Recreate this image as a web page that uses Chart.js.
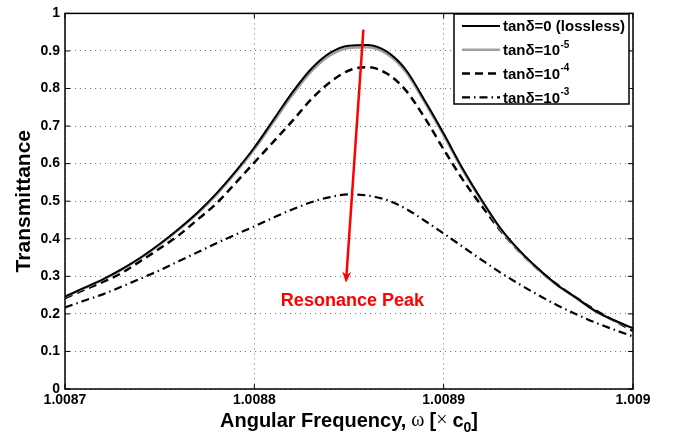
<!DOCTYPE html>
<html lang="en">
<head>
<meta charset="UTF-8">
<title>Transmittance vs Angular Frequency</title>
<style>
  html, body { margin: 0; padding: 0; background: #fff; }
  #wrap { width: 673px; height: 441px; }
</style>
</head>
<body>
<div id="wrap"><canvas id="chart" width="673" height="441"></canvas></div>
<script src="https://cdn.jsdelivr.net/npm/chart.js"></script>
<script>
// angular frequency samples (x c0)
const freqs = [
  1.00870, 1.00871, 1.00872, 1.00873, 1.00874, 1.00875, 1.00876, 1.00877, 1.00878, 1.00879,
  1.00880, 1.00881, 1.00882, 1.00883, 1.00884, 1.00885, 1.00886, 1.00887, 1.00888, 1.00889,
  1.00890, 1.00891, 1.00892, 1.00893, 1.00894, 1.00895, 1.00896, 1.00897, 1.00898, 1.00899,
  1.00900
];

// transmittance
const lossless = [0.246, 0.269, 0.292, 0.319, 0.350, 0.386, 0.426, 0.470, 0.521, 0.579,
  0.643, 0.716, 0.789, 0.852, 0.895, 0.914, 0.916, 0.898, 0.850, 0.768,
  0.680, 0.587, 0.504, 0.428, 0.369, 0.320, 0.277, 0.243, 0.208, 0.183, 0.162];
const loss1e5 = [0.245, 0.268, 0.291, 0.318, 0.349, 0.384, 0.424, 0.467, 0.517, 0.575,
  0.638, 0.710, 0.782, 0.845, 0.888, 0.908, 0.910, 0.892, 0.844, 0.763,
  0.675, 0.583, 0.501, 0.426, 0.367, 0.318, 0.276, 0.242, 0.207, 0.182, 0.161];
const loss1e4 = [0.242, 0.264, 0.285, 0.309, 0.341, 0.374, 0.409, 0.451, 0.494, 0.548,
  0.603, 0.658, 0.713, 0.771, 0.817, 0.848, 0.857, 0.840, 0.795, 0.722,
  0.638, 0.558, 0.488, 0.422, 0.366, 0.318, 0.278, 0.243, 0.210, 0.182, 0.155];
const loss1e3 = [0.217, 0.235, 0.252, 0.273, 0.294, 0.316, 0.340, 0.364, 0.388, 0.411,
  0.433, 0.456, 0.478, 0.497, 0.511, 0.518, 0.515, 0.503, 0.480, 0.448,
  0.414, 0.379, 0.344, 0.310, 0.279, 0.250, 0.223, 0.199, 0.177, 0.158, 0.140];

const seriesLabels = ['tanδ=0 (lossless)', 'tanδ=10^-5', 'tanδ=10^-4', 'tanδ=10^-3'];

const xTicks = [1.0087, 1.0088, 1.0089, 1.009];
const xTickLabels = ['1.0087', '1.0088', '1.0089', '1.009'];
const yTicks = [0, 0.1, 0.2, 0.3, 0.4, 0.5, 0.6, 0.7, 0.8, 0.9, 1];
const yTickLabels = ['0', '0.1', '0.2', '0.3', '0.4', '0.5', '0.6', '0.7', '0.8', '0.9', '1'];

// annotation (data coordinates)
const arrowFrom = [1.0088576, 0.957];
const arrowTo = [1.0088484, 0.283];
const noteText = 'Resonance Peak';
const noteAt = [1.0088518, 0.235];

const FONT = "'Liberation Sans', Arial, Helvetica, sans-serif";
const SYMFONT = "'Liberation Serif', 'DejaVu Serif', serif";

function pts(ys) {
  return freqs.map((f, i) => ({ x: f, y: ys[i] }));
}

// box + inward ticks, matlab style
const framePlugin = {
  id: 'frame',
  afterDatasetsDraw(chart) {
    const { ctx, chartArea: a, scales } = chart;
    ctx.save();
    ctx.strokeStyle = '#000';
    ctx.lineWidth = 1.5;
    ctx.strokeRect(a.left, a.top, a.right - a.left, a.bottom - a.top);
    ctx.lineWidth = 1;
    ctx.beginPath();
    xTicks.forEach(v => {
      const px = scales.x.getPixelForValue(v);
      ctx.moveTo(px, a.bottom); ctx.lineTo(px, a.bottom - 5);
      ctx.moveTo(px, a.top); ctx.lineTo(px, a.top + 5);
    });
    yTicks.forEach(v => {
      const py = scales.y.getPixelForValue(v);
      ctx.moveTo(a.left, py); ctx.lineTo(a.left + 5, py);
      ctx.moveTo(a.right, py); ctx.lineTo(a.right - 5, py);
    });
    ctx.stroke();
    ctx.restore();
  }
};

// x axis title with symbol + subscript pieces
function drawXTitle(chart) {
  const { ctx, chartArea: a } = chart;
  const pieces = [
    { t: 'Angular Frequency,', f: 'bold 20px ' + FONT, dy: 0 },
    { t: ' ω ', f: '20px ' + SYMFONT, dy: 0 },
    { t: '[', f: 'bold 20px ' + FONT, dy: 0 },
    { t: '× ', f: '20px ' + SYMFONT, dy: 0 },
    { t: 'c', f: 'bold 20px ' + FONT, dy: 0 },
    { t: '0', f: 'bold 14px ' + FONT, dy: 7 },
    { t: ']', f: 'bold 20px ' + FONT, dy: 0 }
  ];
  ctx.save();
  let total = 0;
  pieces.forEach(p => { ctx.font = p.f; p.w = ctx.measureText(p.t).width; total += p.w; });
  let x = (a.left + a.right) / 2 - total / 2;
  const y = 421;
  ctx.fillStyle = '#000';
  ctx.textBaseline = 'middle';
  ctx.textAlign = 'left';
  pieces.forEach(p => {
    ctx.font = p.f;
    ctx.fillText(p.t, x, y + p.dy);
    x += p.w;
  });
  ctx.restore();
}

const annotePlugin = {
  id: 'annote',
  afterDraw(chart) {
    const { ctx, scales } = chart;
    const x0 = scales.x.getPixelForValue(arrowFrom[0]);
    const y0 = scales.y.getPixelForValue(arrowFrom[1]);
    const x1 = scales.x.getPixelForValue(arrowTo[0]);
    const y1 = scales.y.getPixelForValue(arrowTo[1]);
    const ang = Math.atan2(y1 - y0, x1 - x0);
    const headLen = 11, headW = 4.5;
    ctx.save();
    ctx.strokeStyle = '#ff0000';
    ctx.fillStyle = '#ff0000';
    ctx.lineWidth = 2.5;
    ctx.beginPath();
    ctx.moveTo(x0, y0);
    ctx.lineTo(x1 - Math.cos(ang) * headLen * 0.6, y1 - Math.sin(ang) * headLen * 0.6);
    ctx.stroke();
    // arrow head
    const bx = x1 - Math.cos(ang) * headLen, by = y1 - Math.sin(ang) * headLen;
    ctx.beginPath();
    ctx.moveTo(x1, y1);
    ctx.lineTo(bx - Math.sin(ang) * headW, by + Math.cos(ang) * headW);
    ctx.lineTo(x1 - Math.cos(ang) * headLen * 0.7, y1 - Math.sin(ang) * headLen * 0.7);
    ctx.lineTo(bx + Math.sin(ang) * headW, by - Math.cos(ang) * headW);
    ctx.closePath();
    ctx.fill();

    ctx.font = 'bold 18px ' + FONT;
    ctx.textAlign = 'center';
    ctx.textBaseline = 'middle';
    ctx.fillText(noteText, scales.x.getPixelForValue(noteAt[0]), scales.y.getPixelForValue(noteAt[1]));
    ctx.restore();

    drawLegend(chart);
    drawXTitle(chart);
  }
};

function drawLegend(chart) {
  const { ctx } = chart;
  const box = { x: 454, y: 14, w: 175, h: 90 };
  ctx.save();
  ctx.fillStyle = '#fff';
  ctx.fillRect(box.x, box.y, box.w, box.h);
  ctx.strokeStyle = '#000';
  ctx.lineWidth = 1.5;
  ctx.strokeRect(box.x, box.y, box.w, box.h);
  chart.data.datasets.forEach((ds, i) => {
    const yy = box.y + 12 + i * 23.8;
    ctx.beginPath();
    ctx.strokeStyle = ds.borderColor;
    ctx.lineWidth = ds.borderWidth;
    ctx.setLineDash(ds.borderDash || []);
    ctx.moveTo(box.x + 8, yy);
    ctx.lineTo(box.x + 46, yy);
    ctx.stroke();
    ctx.setLineDash([]);
    const parts = ds.label.split('^');
    ctx.fillStyle = '#000';
    ctx.textBaseline = 'middle';
    ctx.textAlign = 'left';
    ctx.font = 'bold 15px ' + FONT;
    let tx = box.x + 49;
    ctx.fillText(parts[0], tx, yy + 1);
    if (parts[1]) {
      tx += ctx.measureText(parts[0]).width + 0.5;
      ctx.font = 'bold 10px ' + FONT;
      ctx.fillText(parts[1], tx, yy - 5);
    }
  });
  ctx.restore();
}

const lineStyle = { pointRadius: 0, cubicInterpolationMode: 'monotone' };

const ctx = document.getElementById('chart').getContext('2d');
const chart = new Chart(ctx, {
  type: 'line',
  data: {
    datasets: [
      { label: seriesLabels[0], data: pts(lossless), borderColor: '#000000', borderWidth: 2, ...lineStyle },
      { label: seriesLabels[1], data: pts(loss1e5), borderColor: '#a0a0a0', borderWidth: 2.5, ...lineStyle },
      { label: seriesLabels[2], data: pts(loss1e4), borderColor: '#000000', borderWidth: 2.5, borderDash: [8, 5], ...lineStyle },
      { label: seriesLabels[3], data: pts(loss1e3), borderColor: '#000000', borderWidth: 2.2, borderDash: [8, 4, 1.5, 4], ...lineStyle }
    ]
  },
  options: {
    responsive: false,
    animation: false,
    parsing: false,
    layout: { padding: { top: 11, right: 40, left: 0, bottom: 0 } },
    plugins: {
      legend: { display: false },
      tooltip: { enabled: false }
    },
    scales: {
      x: {
        type: 'linear',
        min: 1.0087,
        max: 1.009,
        afterBuildTicks: scale => { scale.ticks = xTicks.map(v => ({ value: v })); },
        afterFit: scale => { scale.height = 52; },
        ticks: {
          callback: (v, i) => xTickLabels[i],
          color: '#000',
          padding: 3,
          maxRotation: 0,
          font: { family: FONT, size: 14, weight: 'bold' }
        },
        grid: { color: 'rgba(0,0,0,0.55)', lineWidth: 1, drawTicks: false },
        border: { display: false, dash: [1, 4] }
      },
      y: {
        type: 'linear',
        min: 0,
        max: 1,
        afterBuildTicks: scale => { scale.ticks = yTicks.map(v => ({ value: v })); },
        afterFit: scale => { scale.width = 65; },
        ticks: {
          callback: (v, i) => yTickLabels[i],
          color: '#000',
          padding: 5,
          font: { family: FONT, size: 14, weight: 'bold' }
        },
        grid: { color: 'rgba(0,0,0,0.55)', lineWidth: 1, drawTicks: false },
        border: { display: false, dash: [1, 4] },
        title: {
          display: true,
          text: 'Transmittance',
          color: '#000',
          font: { family: FONT, size: 21, weight: 'bold' },
          padding: { top: 12, bottom: 0 }
        }
      }
    }
  },
  plugins: [framePlugin, annotePlugin]
});
</script>
</body>
</html>
